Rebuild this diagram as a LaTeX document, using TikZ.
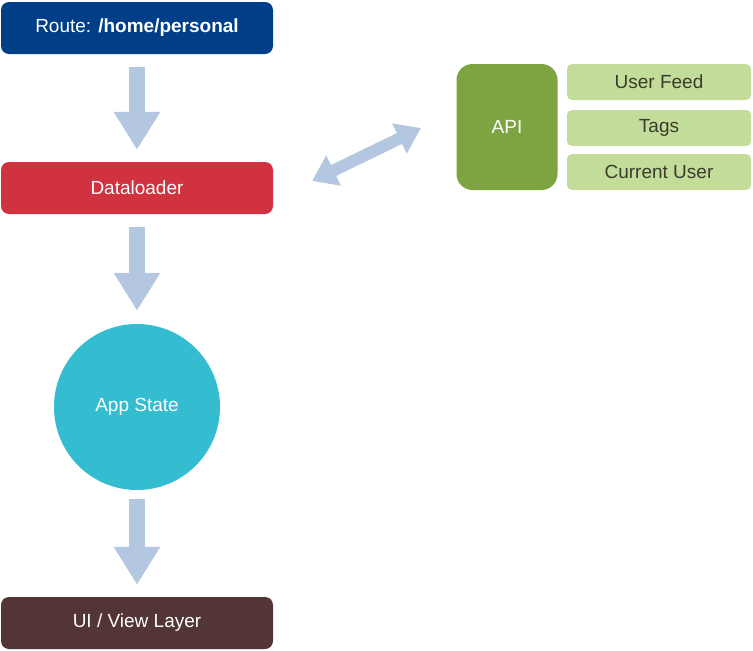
\documentclass[tikz,border=0pt]{standalone}
\usepackage{fontspec}
\setmainfont{Liberation Sans}
\usetikzlibrary{arrows.meta}
\definecolor{cblue}{HTML}{003F87}
\definecolor{cred}{HTML}{D0323F}
\definecolor{ccyan}{HTML}{34BCD0}
\definecolor{cbrown}{HTML}{533535}
\definecolor{cgreen}{HTML}{7EA442}
\definecolor{clgreen}{HTML}{C3DC9A}
\definecolor{carrow}{HTML}{B4C7E0}
\definecolor{ctext}{HTML}{3B3B2B}
\begin{document}
\begin{tikzpicture}[x=1pt,y=-1pt,
  box/.style={draw=none,rounded corners=8pt,minimum width=272pt,minimum height=52pt,text=white,font=\fontsize{19}{22}\selectfont},
  item/.style={fill=clgreen,draw=none,rounded corners=5pt,minimum width=184pt,minimum height=36pt,text=ctext,font=\fontsize{19}{22}\selectfont},
  flow/.style={draw=carrow,line width=16pt,-{Triangle[length=38pt 0,width=44pt 0]}},
  dflow/.style={draw=carrow,line width=12pt,{Triangle[length=24pt 0,width=32pt 0]}-{Triangle[length=24pt 0,width=32pt 0]}}]
\useasboundingbox (0,0) rectangle (753,651);
\node[box,fill=cblue] (route) at (137,28) {Route: \textbf{/home/personal}};
\node[box,fill=cred] (dl) at (137,188) {Dataloader};
\node[circle,fill=ccyan,minimum size=166pt,text=white,font=\fontsize{19}{22}\selectfont] (app) at (137,407) {App State};
\node[box,fill=cbrown] (ui) at (137,623) {UI / View Layer};
\node[fill=cgreen,rounded corners=16pt,minimum width=101pt,minimum height=126pt,text=white,font=\fontsize{19}{22}\selectfont] (api) at (507,127) {API};
\node[item] (feed) at (659,82) {User Feed};
\node[item] (tags) at (659,128) {Tags};
\node[item] (cur) at (659,172) {Current User};
\draw[flow,shorten <=13pt,shorten >=12pt] (route.south) -- (dl.north);
\draw[flow,shorten <=13pt,shorten >=13pt] (dl.south) -- (app.north);
\draw[flow,shorten <=9pt,shorten >=12pt] (app.south) -- (ui.north);
\coordinate (d1) at (312,181);
\coordinate (d2) at (421,128);
\draw[dflow] (d1) -- (d2);
\end{tikzpicture}
\end{document}
